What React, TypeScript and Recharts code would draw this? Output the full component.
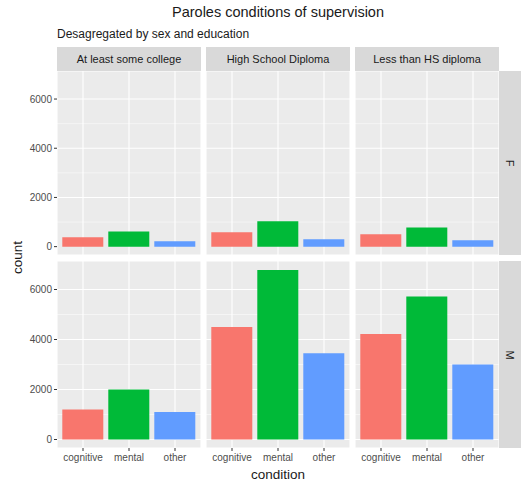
import React from 'react';
import { BarChart, Bar, XAxis, YAxis, CartesianGrid, Cell } from 'recharts';

const conditions = ['cognitive', 'mental', 'other'];
const educations = ['At least some college', 'High School Diploma', 'Less than HS diploma'];
const sexes = ['F', 'M'];
const fCollege = [380, 620, 220];
const fHS = [580, 1030, 300];
const fLess = [500, 780, 260];
const mCollege = [1200, 2000, 1100];
const mHS = [4500, 6780, 3450];
const mLess = [4220, 5720, 3000];
const colors = ['#F8766D', '#00BA38', '#619CFF'];
const yTicks = [0, 2000, 4000, 6000];
const minorTicks = [1000, 3000, 5000];

const grid = [[fCollege, fHS, fLess], [mCollege, mHS, mLess]];
const font = '"Liberation Sans", Arial, sans-serif';

function Panel({ values, showY, showX, left, top, w, h }: any) {
  const data = conditions.map((c, i) => ({ condition: c, count: values[i] }));
  const yw = showY ? 57 : 0;
  const xh = showX ? 22 : 0;
  return (
    <div style={{ position: 'absolute', left: left - yw, top }}>
      <BarChart width={w + yw} height={h + xh} data={data} margin={{ top: 0, right: 0, bottom: 0, left: 0 }} barCategoryGap="5%">
        <CartesianGrid fill="#EBEBEB" stroke="#FFFFFF" strokeWidth={0.5} vertical={false} horizontalValues={minorTicks} />
        <CartesianGrid fill="none" stroke="#FFFFFF" strokeWidth={1.1} />
        <XAxis dataKey="condition" hide={!showX} height={xh} axisLine={false} tickSize={3} tickMargin={3} tickLine={{ stroke: '#333' }}
          padding={{ left: 3, right: 3 }} tick={{ fill: '#4D4D4D', fontSize: 10, fontFamily: font }} interval={0} />
        <YAxis hide={!showY} width={yw} domain={[-340, 7140]} ticks={yTicks} axisLine={false} tickSize={3}
          tickLine={{ stroke: '#333' }} tick={{ fill: '#4D4D4D', fontSize: 10, fontFamily: font }} allowDataOverflow />
        <Bar dataKey="count" isAnimationActive={false}>
          {data.map((d, i) => <Cell key={i} fill={colors[i]} />)}
        </Bar>
      </BarChart>
    </div>
  );
}

export default function App() {
  const cols = [57, 206, 355];
  const pw = 144;
  const rows = [{ top: 71, h: 184 }, { top: 261, h: 187 }];
  return (
    <div style={{ position: 'fixed', left: 0, top: 0, width: 527, height: 490, background: '#fff', fontFamily: font, color: '#1A1A1A' }}>
      <div style={{ position: 'absolute', left: 57, width: 442, top: 4, textAlign: 'center', fontSize: 14.5 }}>Paroles conditions of supervision</div>
      <div style={{ position: 'absolute', left: 57, top: 27, fontSize: 12 }}>Desagregated by sex and education</div>
      {educations.map((e, j) => (
        <div key={e} style={{ position: 'absolute', left: cols[j], top: 47, width: pw, height: 24, background: '#D9D9D9', fontSize: 11, display: 'flex', alignItems: 'center', justifyContent: 'center' }}>{e}</div>
      ))}
      {sexes.map((s, i) => (
        <div key={s} style={{ position: 'absolute', left: 499, top: rows[i].top, width: 22, height: rows[i].h, background: '#D9D9D9', display: 'flex', alignItems: 'center', justifyContent: 'center' }}>
          <span style={{ transform: 'rotate(90deg)', fontSize: 11 }}>{s}</span>
        </div>
      ))}
      {grid.map((row, i) => row.map((vals, j) => (
        <Panel key={i + '-' + j} values={vals} showY={j === 0} showX={i === 1} left={cols[j]} top={rows[i].top} w={pw} h={rows[i].h} />
      )))}
      <div style={{ position: 'absolute', left: 57, width: 442, top: 467, textAlign: 'center', fontSize: 13.5 }}>condition</div>
      <div style={{ position: 'absolute', left: -8, top: 250, width: 50, textAlign: 'center', transform: 'rotate(-90deg)', fontSize: 13.5 }}>count</div>
    </div>
  );
}
